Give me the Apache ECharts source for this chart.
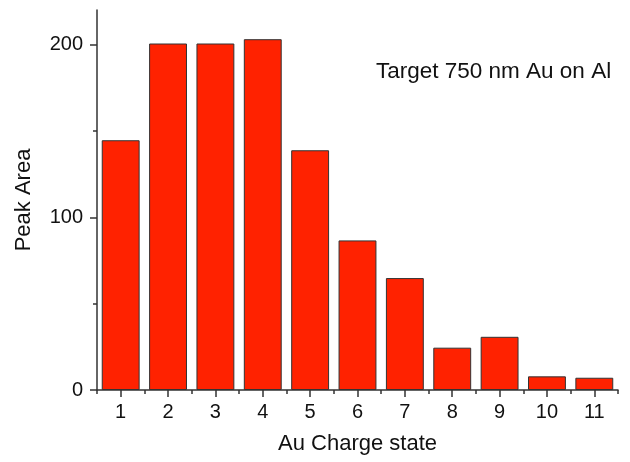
<!DOCTYPE html>
<html><head><meta charset="utf-8">
<script src="https://cdn.jsdelivr.net/npm/echarts@6/dist/echarts.min.js"></script>
<style>html,body{margin:0;padding:0;background:#fff}#c{width:630px;height:462px}</style>
</head><body><div id="c"></div>
<script>
var categories = ['1','2','3','4','5','6','7','8','9','10','11'];
var peakArea = [144.6, 200.6, 200.6, 203.1, 138.8, 86.6, 64.8, 24.5, 30.8, 7.9, 7.1];
var yMajorTicks = [0, 100, 200];
var yMinorTicks = [50, 150];
var annotation = 'Target 750 nm Au on Al';
var xName = 'Au Charge state';
var yName = 'Peak Area';

var font = 'Liberation Sans, Arial, sans-serif';
var chart = echarts.init(document.getElementById('c'));
chart.setOption({
  animation: false,
  grid: {left: 97, right: 12, top: 10, bottom: 72},
  title: {text: annotation, left: 371, top: 55,
    textStyle: {fontFamily: font, fontSize: 22.5, fontWeight: 'normal', color: '#111'}},
  xAxis: [{
    type: 'category', data: categories, boundaryGap: true,
    name: xName, nameLocation: 'middle', nameGap: 43,
    nameTextStyle: {fontFamily: font, fontSize: 22, color: '#111'},
    axisLine: {show: true, lineStyle: {color: '#333', width: 1.5}},
    axisTick: {show: true, inside: false, alignWithLabel: true, length: 7, lineStyle: {color: '#333', width: 1.5}},
    axisLabel: {fontFamily: font, fontSize: 20, color: '#111', margin: 12, interval: 0},
    splitLine: {show: false}
  }, {
    type: 'category', data: categories, boundaryGap: true, position: 'bottom',
    axisLine: {show: false},
    axisTick: {show: true, inside: false, alignWithLabel: false, interval: 0, length: 4, lineStyle: {color: '#333', width: 1.5}},
    axisLabel: {show: false}, splitLine: {show: false}
  }],
  yAxis: [{
    type: 'value', min: 0, max: 220, interval: 100,
    name: yName, nameLocation: 'middle', nameGap: 62,
    nameTextStyle: {fontFamily: font, fontSize: 22, color: '#111'},
    axisLine: {show: true, lineStyle: {color: '#333', width: 1.5}},
    axisTick: {show: true, inside: false, length: 7, customValues: yMajorTicks, lineStyle: {color: '#333', width: 1.5}},
    axisLabel: {fontFamily: font, fontSize: 20, color: '#111', margin: 14, customValues: yMajorTicks},
    splitLine: {show: false}
  }, {
    type: 'value', min: 0, max: 220, position: 'left',
    axisLine: {show: false},
    axisTick: {show: true, length: 4, customValues: yMinorTicks, lineStyle: {color: '#333', width: 1.5}},
    axisLabel: {show: false, customValues: yMinorTicks},
    splitLine: {show: false}
  }],
  series: [{
    type: 'bar', data: peakArea, xAxisIndex: 0, yAxisIndex: 0,
    barCategoryGap: '20%',
    itemStyle: {color: '#ff2200', borderColor: '#333', borderWidth: 1}
  }]
});
</script></body></html>
